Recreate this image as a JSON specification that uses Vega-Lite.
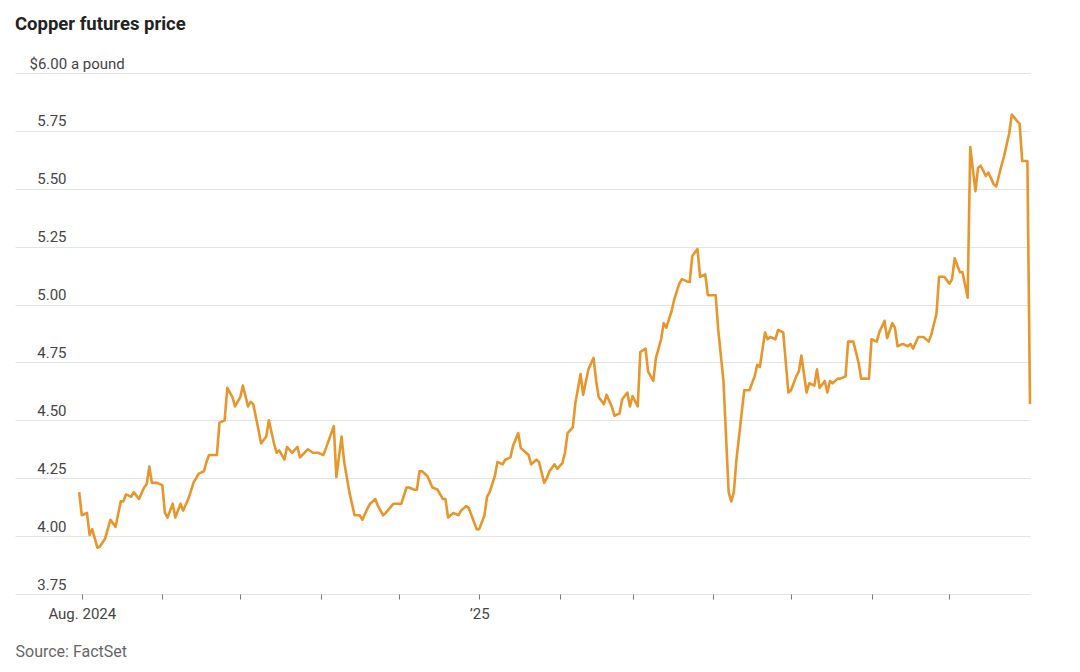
{
"$schema": "https://vega.github.io/schema/vega-lite/v6.json",
"width": 1015,
"height": 521,
"autosize": {"type": "none"},
"padding": {"left": 15, "top": 73, "right": 50, "bottom": 78},
"background": "white",
"config": {"view": {"stroke": null}, "font": "Roboto"},
"title": {"text": "Copper futures price", "anchor": "start", "frame": "group", "fontSize": 18.5, "fontWeight": "bold", "color": "#222222", "font": "Roboto", "offset": 23},
"data": {"values": [
{"date":"2024-07-31","price":4.19},{"date":"2024-08-01","price":4.09},{"date":"2024-08-03","price":4.10},{"date":"2024-08-04","price":4.005},{"date":"2024-08-05","price":4.03},{"date":"2024-08-07","price":3.95},{"date":"2024-08-08","price":3.955},{"date":"2024-08-10","price":3.99},{"date":"2024-08-12","price":4.07},{"date":"2024-08-14","price":4.04},{"date":"2024-08-16","price":4.15},{"date":"2024-08-17","price":4.15},{"date":"2024-08-18","price":4.18},{"date":"2024-08-20","price":4.17},{"date":"2024-08-21","price":4.19},{"date":"2024-08-23","price":4.16},{"date":"2024-08-25","price":4.21},{"date":"2024-08-26","price":4.225},{"date":"2024-08-27","price":4.30},{"date":"2024-08-28","price":4.23},{"date":"2024-08-30","price":4.23},
{"date":"2024-09-01","price":4.22},{"date":"2024-09-02","price":4.10},{"date":"2024-09-03","price":4.08},{"date":"2024-09-05","price":4.14},{"date":"2024-09-06","price":4.08},{"date":"2024-09-08","price":4.14},{"date":"2024-09-09","price":4.11},{"date":"2024-09-11","price":4.16},{"date":"2024-09-13","price":4.23},{"date":"2024-09-15","price":4.27},{"date":"2024-09-17","price":4.28},{"date":"2024-09-18","price":4.32},{"date":"2024-09-19","price":4.35},{"date":"2024-09-22","price":4.35},{"date":"2024-09-23","price":4.49},{"date":"2024-09-25","price":4.50},{"date":"2024-09-26","price":4.64},{"date":"2024-09-28","price":4.60},{"date":"2024-09-29","price":4.56},
{"date":"2024-10-01","price":4.60},{"date":"2024-10-02","price":4.65},{"date":"2024-10-04","price":4.56},{"date":"2024-10-05","price":4.58},{"date":"2024-10-06","price":4.57},{"date":"2024-10-08","price":4.46},{"date":"2024-10-09","price":4.40},{"date":"2024-10-11","price":4.43},{"date":"2024-10-12","price":4.50},{"date":"2024-10-14","price":4.40},{"date":"2024-10-15","price":4.36},{"date":"2024-10-16","price":4.37},{"date":"2024-10-18","price":4.33},{"date":"2024-10-19","price":4.385},{"date":"2024-10-21","price":4.36},{"date":"2024-10-23","price":4.385},{"date":"2024-10-24","price":4.34},{"date":"2024-10-27","price":4.375},{"date":"2024-10-29","price":4.36},{"date":"2024-10-31","price":4.36},
{"date":"2024-11-02","price":4.35},{"date":"2024-11-03","price":4.38},{"date":"2024-11-06","price":4.475},{"date":"2024-11-07","price":4.255},{"date":"2024-11-09","price":4.43},{"date":"2024-11-10","price":4.32},{"date":"2024-11-12","price":4.19},{"date":"2024-11-14","price":4.09},{"date":"2024-11-16","price":4.09},{"date":"2024-11-17","price":4.07},{"date":"2024-11-19","price":4.12},{"date":"2024-11-20","price":4.14},{"date":"2024-11-22","price":4.16},{"date":"2024-11-23","price":4.13},{"date":"2024-11-25","price":4.09},{"date":"2024-11-26","price":4.10},{"date":"2024-11-29","price":4.14},{"date":"2024-11-30","price":4.14},
{"date":"2024-12-02","price":4.14},{"date":"2024-12-04","price":4.21},{"date":"2024-12-05","price":4.21},{"date":"2024-12-07","price":4.20},{"date":"2024-12-08","price":4.20},{"date":"2024-12-09","price":4.28},{"date":"2024-12-10","price":4.28},{"date":"2024-12-12","price":4.26},{"date":"2024-12-14","price":4.21},{"date":"2024-12-16","price":4.20},{"date":"2024-12-18","price":4.16},{"date":"2024-12-19","price":4.16},{"date":"2024-12-20","price":4.08},{"date":"2024-12-22","price":4.10},{"date":"2024-12-24","price":4.09},{"date":"2024-12-25","price":4.11},{"date":"2024-12-27","price":4.13},{"date":"2024-12-28","price":4.12},{"date":"2024-12-29","price":4.09},{"date":"2024-12-31","price":4.03},
{"date":"2025-01-01","price":4.03},{"date":"2025-01-03","price":4.09},{"date":"2025-01-04","price":4.17},{"date":"2025-01-05","price":4.19},{"date":"2025-01-07","price":4.26},{"date":"2025-01-08","price":4.32},{"date":"2025-01-10","price":4.31},{"date":"2025-01-11","price":4.33},{"date":"2025-01-13","price":4.34},{"date":"2025-01-14","price":4.39},{"date":"2025-01-16","price":4.445},{"date":"2025-01-17","price":4.38},{"date":"2025-01-18","price":4.37},{"date":"2025-01-20","price":4.35},{"date":"2025-01-21","price":4.31},{"date":"2025-01-23","price":4.33},{"date":"2025-01-24","price":4.32},{"date":"2025-01-26","price":4.23},{"date":"2025-01-27","price":4.25},{"date":"2025-01-28","price":4.28},{"date":"2025-01-30","price":4.31},{"date":"2025-01-31","price":4.29},
{"date":"2025-02-02","price":4.315},{"date":"2025-02-03","price":4.36},{"date":"2025-02-04","price":4.445},{"date":"2025-02-06","price":4.47},{"date":"2025-02-07","price":4.575},{"date":"2025-02-09","price":4.70},{"date":"2025-02-10","price":4.61},{"date":"2025-02-12","price":4.72},{"date":"2025-02-14","price":4.77},{"date":"2025-02-15","price":4.67},{"date":"2025-02-16","price":4.60},{"date":"2025-02-18","price":4.57},{"date":"2025-02-19","price":4.61},{"date":"2025-02-21","price":4.56},{"date":"2025-02-22","price":4.52},{"date":"2025-02-24","price":4.53},{"date":"2025-02-25","price":4.59},{"date":"2025-02-27","price":4.62},{"date":"2025-02-28","price":4.56},
{"date":"2025-03-01","price":4.605},{"date":"2025-03-03","price":4.56},{"date":"2025-03-04","price":4.795},{"date":"2025-03-06","price":4.81},{"date":"2025-03-07","price":4.71},{"date":"2025-03-09","price":4.67},{"date":"2025-03-10","price":4.77},{"date":"2025-03-12","price":4.85},{"date":"2025-03-13","price":4.92},{"date":"2025-03-14","price":4.90},{"date":"2025-03-16","price":4.97},{"date":"2025-03-17","price":5.02},{"date":"2025-03-19","price":5.09},{"date":"2025-03-20","price":5.11},{"date":"2025-03-22","price":5.10},{"date":"2025-03-23","price":5.097},{"date":"2025-03-24","price":5.21},{"date":"2025-03-26","price":5.24},{"date":"2025-03-27","price":5.12},{"date":"2025-03-29","price":5.13},{"date":"2025-03-30","price":5.04},
{"date":"2025-04-01","price":5.04},{"date":"2025-04-02","price":5.04},{"date":"2025-04-03","price":4.89},{"date":"2025-04-05","price":4.67},{"date":"2025-04-06","price":4.43},{"date":"2025-04-07","price":4.19},{"date":"2025-04-08","price":4.15},{"date":"2025-04-09","price":4.19},{"date":"2025-04-10","price":4.33},{"date":"2025-04-12","price":4.53},{"date":"2025-04-13","price":4.63},{"date":"2025-04-15","price":4.63},{"date":"2025-04-17","price":4.69},{"date":"2025-04-18","price":4.74},{"date":"2025-04-19","price":4.73},{"date":"2025-04-21","price":4.88},{"date":"2025-04-22","price":4.85},{"date":"2025-04-23","price":4.86},{"date":"2025-04-25","price":4.85},{"date":"2025-04-26","price":4.89},{"date":"2025-04-28","price":4.88},{"date":"2025-04-30","price":4.62},
{"date":"2025-05-01","price":4.63},{"date":"2025-05-03","price":4.69},{"date":"2025-05-04","price":4.71},{"date":"2025-05-05","price":4.78},{"date":"2025-05-07","price":4.62},{"date":"2025-05-08","price":4.66},{"date":"2025-05-10","price":4.65},{"date":"2025-05-11","price":4.72},{"date":"2025-05-12","price":4.64},{"date":"2025-05-14","price":4.67},{"date":"2025-05-15","price":4.62},{"date":"2025-05-16","price":4.67},{"date":"2025-05-17","price":4.66},{"date":"2025-05-19","price":4.68},{"date":"2025-05-20","price":4.68},{"date":"2025-05-22","price":4.69},{"date":"2025-05-23","price":4.84},{"date":"2025-05-25","price":4.84},{"date":"2025-05-27","price":4.75},{"date":"2025-05-28","price":4.68},{"date":"2025-05-30","price":4.68},{"date":"2025-05-31","price":4.68},
{"date":"2025-06-01","price":4.85},{"date":"2025-06-03","price":4.84},{"date":"2025-06-04","price":4.88},{"date":"2025-06-06","price":4.93},{"date":"2025-06-07","price":4.855},{"date":"2025-06-09","price":4.92},{"date":"2025-06-10","price":4.90},{"date":"2025-06-11","price":4.82},{"date":"2025-06-13","price":4.83},{"date":"2025-06-15","price":4.82},{"date":"2025-06-16","price":4.83},{"date":"2025-06-17","price":4.81},{"date":"2025-06-19","price":4.86},{"date":"2025-06-21","price":4.86},{"date":"2025-06-23","price":4.84},{"date":"2025-06-24","price":4.87},{"date":"2025-06-26","price":4.96},{"date":"2025-06-27","price":5.12},{"date":"2025-06-29","price":5.12},
{"date":"2025-07-01","price":5.09},{"date":"2025-07-02","price":5.11},{"date":"2025-07-03","price":5.20},{"date":"2025-07-05","price":5.14},{"date":"2025-07-06","price":5.14},{"date":"2025-07-08","price":5.03},{"date":"2025-07-09","price":5.68},{"date":"2025-07-11","price":5.49},{"date":"2025-07-12","price":5.59},{"date":"2025-07-13","price":5.60},{"date":"2025-07-15","price":5.555},{"date":"2025-07-16","price":5.57},{"date":"2025-07-18","price":5.52},{"date":"2025-07-19","price":5.51},{"date":"2025-07-21","price":5.60},{"date":"2025-07-22","price":5.64},{"date":"2025-07-24","price":5.74},{"date":"2025-07-25","price":5.82},{"date":"2025-07-28","price":5.78},{"date":"2025-07-29","price":5.62},{"date":"2025-07-31","price":5.62},{"date":"2025-08-01","price":4.57}
]},
"mark": {"type": "line", "color": "#E8962B", "strokeWidth": 2.6, "strokeJoin": "round", "clip": false},
"encoding": {
 "x": {"field": "date", "type": "temporal",
  "scale": {"type": "utc", "domain": [{"year": 2024, "month": 7, "date": 6, "hours": 7, "utc": true}, {"year": 2025, "month": 8, "date": 1, "utc": true}]},
  "axis": {
   "title": "Source: FactSet", "titleAnchor": "start", "titleAlign": "left", "titleX": 0, "titleY": 62, "titleBaseline": "alphabetic", "titleFontSize": 16, "titleFontWeight": "normal", "titleColor": "#666666", "titleFont": "Roboto",
   "values": [
    {"year": 2024, "month": 8, "date": 1, "utc": true},{"year": 2024, "month": 9, "date": 1, "utc": true},{"year": 2024, "month": 10, "date": 1, "utc": true},{"year": 2024, "month": 11, "date": 1, "utc": true},{"year": 2024, "month": 12, "date": 1, "utc": true},{"year": 2025, "month": 1, "date": 1, "utc": true},{"year": 2025, "month": 2, "date": 1, "utc": true},{"year": 2025, "month": 3, "date": 1, "utc": true},{"year": 2025, "month": 4, "date": 1, "utc": true},{"year": 2025, "month": 5, "date": 1, "utc": true},{"year": 2025, "month": 6, "date": 1, "utc": true},{"year": 2025, "month": 7, "date": 1, "utc": true}
   ],
   "labelExpr": "utcmonth(datum.value) == 7 && utcyear(datum.value) == 2024 ? 'Aug. 2024' : (utcmonth(datum.value) == 0 ? '\u201925' : '')",
   "domain": false, "grid": false, "ticks": true, "tickSize": 5, "tickColor": "#777777", "tickWidth": 1,
   "labelPadding": 7, "labelFontSize": 15, "labelColor": "#444444", "labelFont": "Roboto", "labelOverlap": false, "labelFlush": false, "labelAlign": "center", "labelBaseline": "top"
  }
 },
 "y": {"field": "price", "type": "quantitative",
  "scale": {"domain": [3.75, 6], "nice": false, "zero": false},
  "axis": {
   "title": null,
   "values": [3.75, 4, 4.25, 4.5, 4.75, 5, 5.25, 5.5, 5.75, 6],
   "domain": false, "ticks": false, "tickSize": 0, "grid": true, "gridColor": "#e4e4e4", "gridWidth": 1,
   "labelExpr": "datum.value == 6 ? '$6.00 a pound' : format(datum.value, '.2f')",
   "labelAlign": {"condition": {"test": "datum.value == 6", "value": "left"}, "value": "right"},
   "labelPadding": {"condition": {"test": "datum.value == 6", "value": -14}, "value": -51},
   "labelBaseline": "alphabetic", "labelOffset": -5, "labelFontSize": 15, "labelColor": "#444444", "labelFont": "Roboto"
  }
 }
}
}
